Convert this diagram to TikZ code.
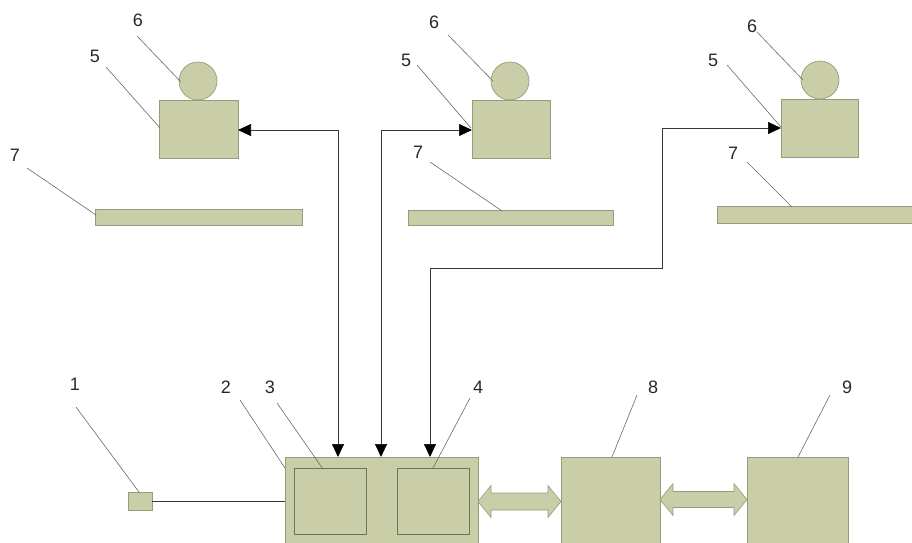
\documentclass[tikz,border=0pt]{standalone}
\usepackage{fontspec}
\setmainfont{Liberation Sans}
\usetikzlibrary{arrows.meta,calc}
\definecolor{khaki}{RGB}{201,206,168}
\definecolor{edgec}{RGB}{150,155,122}
\definecolor{inedge}{RGB}{110,116,88}
\definecolor{leadc}{RGB}{105,105,105}
\definecolor{connc}{RGB}{55,55,55}
\definecolor{txtc}{RGB}{40,40,40}
\tikzset{
  part/.style={draw=edgec,fill=khaki,line width=0.7pt,inner sep=0pt,outer sep=0pt},
  inpart/.style={draw=inedge,fill=khaki,line width=0.7pt,inner sep=0pt,outer sep=0pt},
  lead/.style={draw=leadc,line width=0.6pt},
  conn/.style={draw=connc,line width=0.7pt},
  tip/.style={{Triangle[length=13pt,width=12pt,color=black]}-{Triangle[length=13pt,width=12pt,color=black]}},
  lbl/.style={font=\fontsize{18}{18}\selectfont,text=txtc,inner sep=0pt},
  fat/.style={draw=edgec,fill=khaki,line width=0.6pt,line join=round}
}
\begin{document}
\begin{tikzpicture}[x=1pt,y=-1pt]
\useasboundingbox (0,0) rectangle (912,542);
\clip (0,0) rectangle (912,542);
% group 1
\node[part,circle,minimum size=38pt] (c6a) at (198,81) {};
\node[part,minimum width=79pt,minimum height=58pt] (b5a) at (198.5,129) {};
\node[part,minimum width=207pt,minimum height=16pt] (b7a) at (198.5,217) {};
% group 2
\node[part,circle,minimum size=38pt] (c6b) at (510,81) {};
\node[part,minimum width=78pt,minimum height=58pt] (b5b) at (511,129) {};
\node[part,minimum width=205pt,minimum height=15pt] (b7b) at (510.5,217.5) {};
% group 3
\node[part,circle,minimum size=38pt] (c6c) at (820,80) {};
\node[part,minimum width=77pt,minimum height=58pt] (b5c) at (819.5,128) {};
\node[part,minimum width=200pt,minimum height=17pt] (b7c) at (817,214.5) {};
% bottom
\node[part,minimum width=24pt,minimum height=18pt] (b1) at (140,501) {};
\node[part,minimum width=193pt,minimum height=90pt] (b2) at (381.5,502) {};
\node[inpart,minimum width=72pt,minimum height=66pt] (b3) at (330,501) {};
\node[inpart,minimum width=72pt,minimum height=66pt] (b4) at (433,501) {};
\node[part,minimum width=99pt,minimum height=90pt] (b8) at (610.5,502) {};
\node[part,minimum width=101pt,minimum height=90pt] (b9) at (797.5,502) {};
% labels
\node[lbl] (l6a) at (138,20) {6};
\node[lbl] (l5a) at (95,56) {5};
\node[lbl] (l7a) at (15,155) {7};
\node[lbl] (l6b) at (434,22) {6};
\node[lbl] (l5b) at (406,60) {5};
\node[lbl] (l7b) at (418,152) {7};
\node[lbl] (l6c) at (752,26) {6};
\node[lbl] (l5c) at (713,60) {5};
\node[lbl] (l7c) at (733,153) {7};
\node[lbl] (l1) at (75,384) {1};
\node[lbl] (l2) at (226,387) {2};
\node[lbl] (l3) at (270,387) {3};
\node[lbl] (l4) at (478,387) {4};
\node[lbl] (l8) at (653,387) {8};
\node[lbl] (l9) at (847,387) {9};
% leaders
\draw[lead] (137,36) -- (181,82);
\draw[lead] (106,67) -- (160,128);
\draw[lead] (27,168) -- (96,215);
\draw[lead] (448,35) -- (493,81);
\draw[lead] (417,65) -- (471,128);
\draw[lead] (430,162) -- (502,211);
\draw[lead] (757,32) -- (803,80);
\draw[lead] (727,65) -- (781,127);
\draw[lead] (747,162) -- (792,207);
\draw[lead] (76,407) -- (139,492);
\draw[lead] (240,400) -- (285,468);
\draw[lead] (277,403) -- (323,469);
\draw[lead] (470,398) -- (433,468);
\draw[lead] (637,395) -- (612,457);
\draw[lead] (830,395) -- (798,457);
% connectors
\coordinate (c1) at (338,130);
\coordinate (c2) at (381,130);
\coordinate (c3a) at (430,268);
\coordinate (c3b) at (662,268);
\draw[conn,tip] (b2.north -| c1) -- (c1) -- (c1 -| b5a.east);
\draw[conn,tip] (b2.north -| c2) -- (c2) -- (c2 -| b5b.west);
\draw[conn,tip] (b2.north -| c3a) -- (c3a) -- (c3b) -- (c3b |- b5c.west) -- (b5c.west);
\draw[conn] (b1.east) -- (b1.east -| b2.west);
% fat double arrows
\coordinate (ya) at (0,501.5);
\coordinate (yb) at (0,499.5);
\coordinate (fa1) at (b2.east |- ya);
\coordinate (fa2) at (b8.west |- ya);
\coordinate (fb1) at (b8.east |- yb);
\coordinate (fb2) at (b9.west |- yb);
\draw[fat] (fa1) -- ($(fa1)+(13,16)$) -- ($(fa1)+(13,8.5)$) -- ($(fa2)+(-13,8.5)$) -- ($(fa2)+(-13,16)$) -- (fa2)
  -- ($(fa2)+(-13,-16)$) -- ($(fa2)+(-13,-8.5)$) -- ($(fa1)+(13,-8.5)$) -- ($(fa1)+(13,-16)$) -- cycle;
\draw[fat] (fb1) -- ($(fb1)+(13,16)$) -- ($(fb1)+(13,8)$) -- ($(fb2)+(-13,8)$) -- ($(fb2)+(-13,16)$) -- (fb2)
  -- ($(fb2)+(-13,-16)$) -- ($(fb2)+(-13,-8)$) -- ($(fb1)+(13,-8)$) -- ($(fb1)+(13,-16)$) -- cycle;
\end{tikzpicture}
\end{document}
